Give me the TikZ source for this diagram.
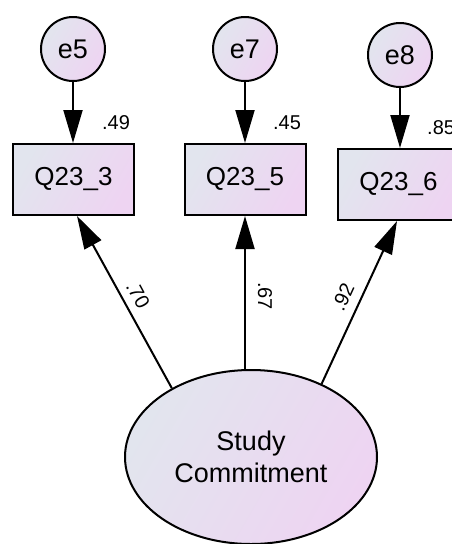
\documentclass[tikz,border=0pt]{standalone}
\usepackage{fontspec}
\setmainfont{Liberation Sans}
\usetikzlibrary{arrows.meta,shapes.geometric,calc}
\definecolor{fillA}{RGB}{226,229,238}
\definecolor{fillB}{RGB}{238,212,242}
\tikzset{
  shadedfill/.style={top color=fillA,bottom color=fillB,shading angle=60},
  errnode/.style={circle,draw,line width=2pt,shadedfill,minimum size=64pt,inner sep=0pt,
    font=\fontsize{27}{32}\selectfont},
  obsbox/.style={rectangle,draw,line width=2pt,shadedfill,minimum width=121pt,
    minimum height=71pt,inner sep=0pt,font=\fontsize{26}{30}\selectfont},
  latent/.style={ellipse,draw,line width=2pt,shadedfill,minimum width=252pt,
    minimum height=174pt,inner sep=0pt,align=center,font=\fontsize{27}{32}\selectfont},
  link/.style={line width=2pt,-{Triangle[length=33pt,width=19pt]}},
  coef/.style={font=\fontsize{20}{24}\selectfont,inner sep=0pt},
}
\begin{document}
\begin{tikzpicture}[x=1pt,y=-1pt]
  \path[use as bounding box,fill=white] (0,0) rectangle (452,544);

  % error terms
  \node[errnode] (e5) at (73,49) {e5};
  \node[errnode] (e7) at (245,49) {e7};
  \node[errnode] (e8) at (400,55) {e8};

  % observed indicators
  \node[obsbox] (q3) at (73.5,179.5) {Q23\_3};
  \node[obsbox] (q5) at (245,179.5) {Q23\_5};
  \node[obsbox] (q6) at (398.5,184.5) {Q23\_6};

  % latent factor
  \node[latent] (sc) at (251,457) {Study\\Commitment};

  % squared multiple correlations
  \node[coef] (r3) at (116,123) {.49};
  \node[coef] (r5) at (287,123) {.45};
  \node[coef,anchor=west] (r6) at (427,128) {.85};

  % error paths
  \draw[link] (e5.south) -- (e5.south |- q3.north);
  \draw[link] (e7.south) -- (e7.south |- q5.north);
  \draw[link] (e8.south) -- (e8.south |- q6.north);

  % factor loadings
  \draw[link] (sc.139) -- ($(q3.south)+(3.5,0)$);
  \draw[link] (q5.south |- sc.north) -- (q5.south);
  \draw[link] (sc.46) -- ($(q6.south)+(-1.5,0)$);

  \node[coef,rotate=-61.6] (l3) at (138,295) {.70};
  \node[coef,rotate=-90] (l5) at (265,296) {.67};
  \node[coef,rotate=65.3] (l6) at (343,297) {.92};
\end{tikzpicture}
\end{document}
